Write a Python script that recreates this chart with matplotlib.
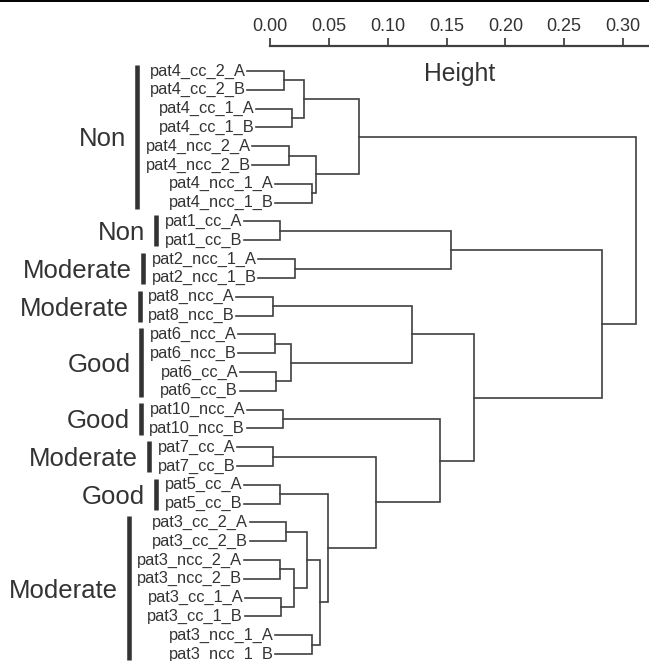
import matplotlib
matplotlib.use("Agg")
import matplotlib.pyplot as plt
import matplotlib.transforms as mtransforms
from matplotlib.lines import Line2D

plt.rcParams['font.family'] = ['Liberation Sans', 'DejaVu Sans']

# leaves, top to bottom
LEAVES = [
    "pat4_cc_2_A", "pat4_cc_2_B", "pat4_cc_1_A", "pat4_cc_1_B",
    "pat4_ncc_2_A", "pat4_ncc_2_B", "pat4_ncc_1_A", "pat4_ncc_1_B",
    "pat1_cc_A", "pat1_cc_B", "pat2_ncc_1_A", "pat2_ncc_1_B",
    "pat8_ncc_A", "pat8_ncc_B", "pat6_ncc_A", "pat6_ncc_B",
    "pat6_cc_A", "pat6_cc_B", "pat10_ncc_A", "pat10_ncc_B",
    "pat7_cc_A", "pat7_cc_B", "pat5_cc_A", "pat5_cc_B",
    "pat3_cc_2_A", "pat3_cc_2_B", "pat3_ncc_2_A", "pat3_ncc_2_B",
    "pat3_cc_1_A", "pat3_cc_1_B", "pat3_ncc_1_A", "pat3_ncc_1_B",
]

# merges: ids < 32 are leaves, id 32+k is merge k
MERGE_LEFT = [0, 2, 32, 4, 6, 35, 34, 8, 10, 39, 12, 14, 16, 43, 42, 18,
              20, 22, 24, 26, 28, 51, 50, 30, 54, 49, 48, 47, 46, 41, 38]
MERGE_RIGHT = [1, 3, 33, 5, 7, 36, 37, 9, 11, 40, 13, 15, 17, 44, 45, 19,
               21, 23, 25, 27, 29, 52, 53, 31, 55, 56, 57, 58, 59, 60, 61]
MERGE_HEIGHT = [0.0116, 0.0190, 0.0288, 0.0162, 0.0355, 0.0393, 0.0755,
                0.0088, 0.0211, 0.1540, 0.0025, 0.0042, 0.0053, 0.0179,
                0.1210, 0.0112, 0.0028, 0.0088, 0.0137, 0.0088, 0.0095,
                0.0200, 0.0313, 0.0355, 0.0429, 0.0495, 0.0903, 0.1444,
                0.1735, 0.2824, 0.3110]

GROUP_NAMES = ["Non", "Non", "Moderate", "Moderate", "Good", "Good",
               "Moderate", "Good", "Moderate"]
GROUP_FIRST = [0, 8, 10, 12, 14, 18, 20, 22, 24]
GROUP_LAST = [7, 9, 11, 13, 17, 19, 21, 23, 31]

HEIGHT_TICKS = [0.00, 0.05, 0.10, 0.15, 0.20, 0.25, 0.30]

INK = "#333333"
LINE = "#404040"

W, H = 649, 661
PX_PER_UNIT = 1176.7
ZERO_PX = 270
AXIS_TOP_PX = 46
ROW0_PX = 71
ROW_PX = 18.81

fig = plt.figure(figsize=(W / 100, H / 100), dpi=100)
fig.patch.set_facecolor("white")
ax = fig.add_axes([0, 0, 1, (H - AXIS_TOP_PX) / H])
xmax = (W - ZERO_PX) / PX_PER_UNIT
ax.set_xlim(-ZERO_PX / PX_PER_UNIT, xmax)
ax.set_ylim((H - ROW0_PX) / ROW_PX, -(ROW0_PX - AXIS_TOP_PX) / ROW_PX)
ax.patch.set_alpha(0)

for s in ("left", "right", "bottom"):
    ax.spines[s].set_visible(False)
ax.spines["top"].set_bounds(0, xmax)
ax.spines["top"].set_color(LINE)
ax.spines["top"].set_linewidth(1.6)
ax.xaxis.tick_top()
ax.set_xticks(HEIGHT_TICKS)
ax.set_xticklabels([f"{t:.2f}" for t in HEIGHT_TICKS])
ax.tick_params(axis="x", direction="out", length=6, width=1.2, pad=2,
               labelsize=13, colors=INK)
ax.set_yticks([])

# dendrogram layout
n = len(LEAVES)
hang = 0.1 * max(MERGE_HEIGHT)
ypos = list(range(n))
xpos = [None] * n
leaf_x = [0.0] * n
for a, b, h in zip(MERGE_LEFT, MERGE_RIGHT, MERGE_HEIGHT):
    for c in (a, b):
        if c < n:
            leaf_x[c] = h - hang
    xa = leaf_x[a] if a < n else xpos[a]
    xb = leaf_x[b] if b < n else xpos[b]
    ya, yb = ypos[a], ypos[b]
    ax.plot([xa, h, h, xb], [ya, ya, yb, yb], color=LINE, lw=1.2,
            solid_joinstyle="miter")
    xpos.append(h)
    ypos.append((ya + yb) / 2)

lab_tr = mtransforms.offset_copy(ax.transData, fig=fig, x=-1.5, y=0, units="dots")
texts = []
for i, lab in enumerate(LEAVES):
    t = ax.text(leaf_x[i], i, lab, ha="right", va="center", fontsize=11.8,
                color=INK, transform=lab_tr)
    texts.append(t)

fig.canvas.draw()
renderer = fig.canvas.get_renderer()
inv = ax.transData.inverted()
for name, first, last in zip(GROUP_NAMES, GROUP_FIRST, GROUP_LAST):
    x0 = min(texts[i].get_window_extent(renderer).x0 for i in range(first, last + 1))
    bx = inv.transform((x0 - 8.5, 0))[0]
    ax.plot([bx, bx], [first - 0.33, last + 0.33], color=INK, lw=3.3,
            solid_capstyle="butt")
    g_tr = mtransforms.offset_copy(ax.transData, fig=fig, x=-11, y=0, units="dots")
    ax.text(bx, (first + last) / 2, name, ha="right", va="center_baseline",
            fontsize=18.5, color=INK, transform=g_tr)

# axis title
title_tr = mtransforms.blended_transform_factory(ax.transData, fig.transFigure)
fig.text(xmax / 2, 1 - 81 / H, "Height", ha="center", va="baseline",
         fontsize=17.8, color=INK, transform=title_tr)

# rule along the top edge
fig.add_artist(Line2D([0, 1], [1 - 0.8 / H, 1 - 0.8 / H], color="black", lw=1.4,
                      transform=fig.transFigure))

fig.savefig("out.png", dpi=100, facecolor="white")
